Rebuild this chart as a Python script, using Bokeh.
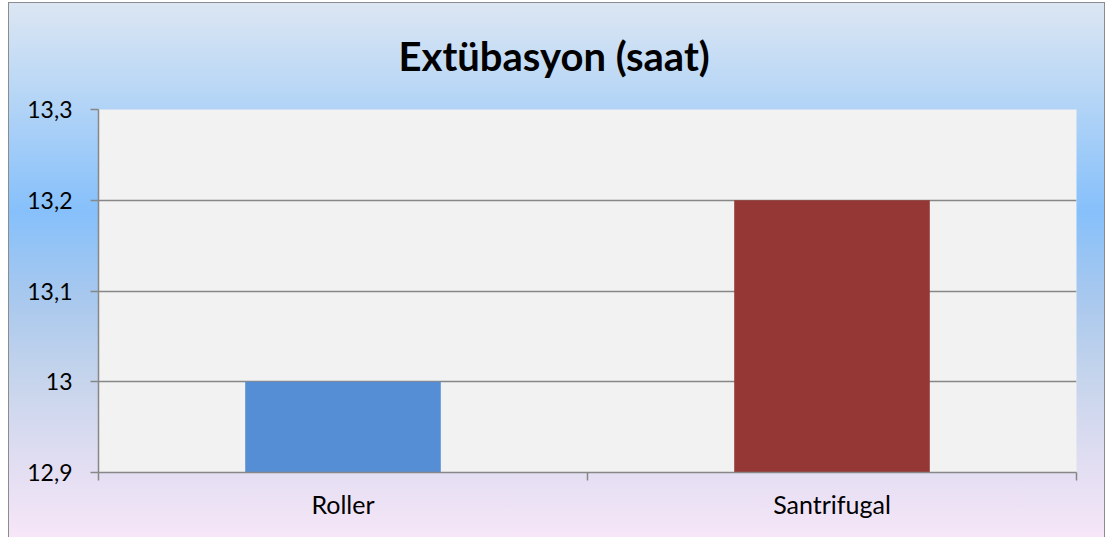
from bokeh.plotting import figure
from bokeh.models import (Range1d, LinearAxis, FixedTicker, ColumnDataSource)
from bokeh.embed import file_html
from bokeh.resources import INLINE

# ---- data ----
title_text = "Extübasyon (saat)"
categories = ["Roller", "Santrifugal"]
values = [13.0, 13.2]
bar_colors = ["#558ED5", "#953735"]
y_min, y_max = 12.9, 13.3
y_ticks = [12.9, 13.0, 13.1, 13.2, 13.3]
y_tick_labels = ["12,9", "13", "13,1", "13,2", "13,3"]

FONT = "Lato"
GRAY = "#878787"
BORDER = "#8C8C8C"

n = len(categories)
centers = [i + 0.5 for i in range(n)]
bounds = list(range(n + 1))
source = ColumnDataSource(dict(x=centers, val=values, color=bar_colors,
                               base=[y_min] * n))

p = figure(width=1105, height=537,
           x_range=Range1d(0, n),
           y_range=Range1d(y_min, y_max),
           x_axis_location=None,
           output_backend="svg", toolbar_location=None,
           min_border_left=98, min_border_right=29,
           min_border_top=108, min_border_bottom=65)

p.border_fill_color = None
p.background_fill_color = "#F2F2F2"
p.outline_line_color = None
line = f"linear-gradient({BORDER}, {BORDER})"
p.styles = {
    "background": ", ".join([
        f"{line} 8px 2px / 1px 100% no-repeat",
        f"{line} 1104px 2px / 1px 100% no-repeat",
        f"{line} 8px 2px / 1097px 1px no-repeat",
        "linear-gradient(to bottom, #DCE6F3 0%, #C0DAF5 13%, #86C0FB 39%, "
        "#A8C8EE 55%, #C5D4EC 70%, #E3DEF2 87%, #F6E6F8 100%) 9px 3px / 1095px 534px no-repeat",
        "white",
    ]),
}

# title
p.title.text = title_text
p.title.align = "left"
p.title.offset = 300
p.title.text_font = FONT
p.title.text_font_style = "bold"
p.title.text_font_size = "40px"
p.title.text_color = "black"
p.title.standoff = 59

# bars
p.vbar(x="x", top="val", bottom="base", width=0.4, fill_color="color",
       line_color=None, source=source)

# y axis
yax = p.yaxis[0]
yax.ticker = FixedTicker(ticks=y_ticks)
yax.major_label_overrides = {t: l for t, l in zip(y_ticks, y_tick_labels)}
yax.major_label_text_font = FONT
yax.major_label_text_font_size = "23px"
yax.major_label_text_color = "black"
yax.major_tick_in = 0
yax.major_tick_out = 8
yax.minor_tick_line_color = None
yax.major_label_standoff = 18
yax.axis_line_color = GRAY
yax.axis_line_width = 1.5
yax.major_tick_line_color = GRAY
yax.major_tick_line_width = 1.5

# grid
p.xgrid.grid_line_color = None
p.ygrid.ticker = FixedTicker(ticks=y_ticks)
p.ygrid.grid_line_color = GRAY
p.ygrid.grid_line_width = 1.5

# category axis: labels at slot centres, tick marks at slot boundaries
xax = LinearAxis(ticker=FixedTicker(ticks=centers, minor_ticks=bounds),
                 major_label_overrides={c: name for c, name in zip(centers, categories)},
                 axis_line_color=GRAY, axis_line_width=1.5,
                 major_tick_line_color=None, major_tick_in=0, major_tick_out=0,
                 minor_tick_line_color=GRAY, minor_tick_line_width=1.5,
                 minor_tick_in=0, minor_tick_out=8,
                 major_label_standoff=8,
                 major_label_text_font=FONT,
                 major_label_text_font_size="25px",
                 major_label_text_color="black")
p.add_layout(xax, "below")

open("out.html", "w").write(file_html(p, INLINE))
